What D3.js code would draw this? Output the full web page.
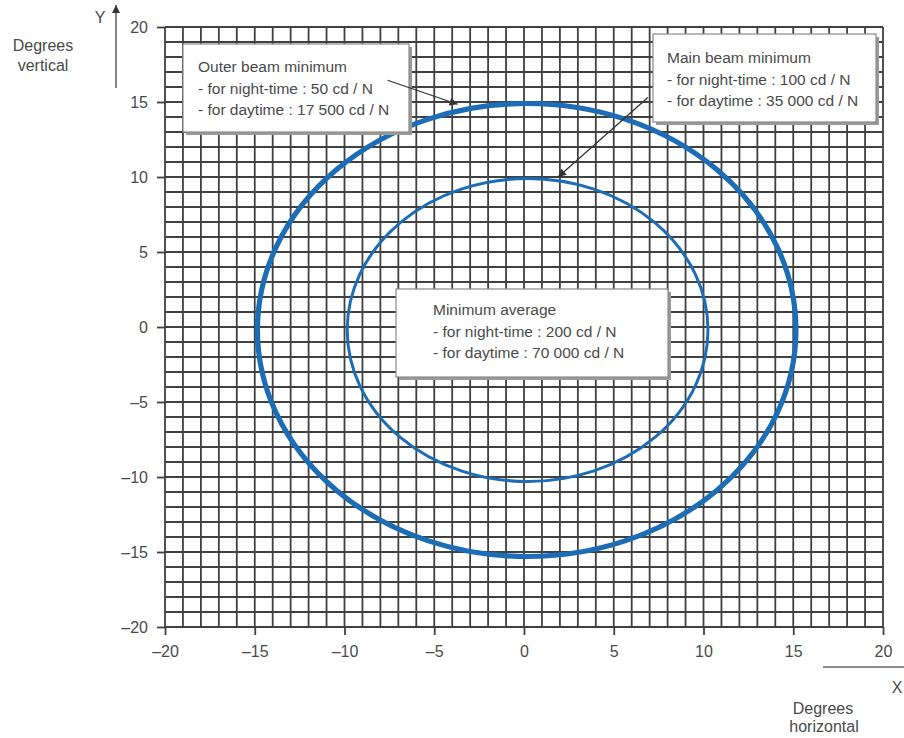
<!DOCTYPE html>
<html>
<head>
<meta charset="utf-8">
<script src="https://cdn.jsdelivr.net/npm/d3@7"></script>
<style>
  html, body { margin: 0; padding: 0; background: #fff; }
  svg { display: block; }
  text { font-family: "Liberation Sans", Arial, sans-serif; }
</style>
</head>
<body>
<svg id="chart" width="904" height="738"></svg>
<script>
// ---- data ----
const xDomain = [-20, 20];
const yDomain = [-20, 20];
const tickValues = [-20, -15, -10, -5, 0, 5, 10, 15, 20];
const gridStep = 1;
// beam contours (degrees): centre x, centre y, half-width, half-height
const contourNames = ["Outer beam", "Main beam"];
const contourCx = [0.15, 0.2];
const contourCy = [-0.2, -0.2];
const contourRx = [15.0, 10.05];
const contourRy = [15.1, 10.1];
// annotation boxes
const boxTitles = ["Outer beam minimum", "Main beam minimum", "Minimum average"];
const boxNight = ["- for night-time : 50 cd / N", "- for night-time : 100 cd / N", "- for night-time : 200 cd / N"];
const boxDay = ["- for daytime : 17 500 cd / N", "- for daytime : 35 000 cd / N", "- for daytime : 70 000 cd / N"];
// leader arrows (degrees): from -> to
const arrowFromX = [-7.6, 6.9];
const arrowFromY = [16.45, 15.3];
const arrowToX = [-3.7, 1.9];
const arrowToY = [14.85, 10.0];

// ---- layout ----
const svg = d3.select("#chart");
const pLeft = 165, pRight = 883, pTop = 27, pBottom = 627;
const x = d3.scaleLinear().domain(xDomain).range([pLeft, pRight]);
const y = d3.scaleLinear().domain(yDomain).range([pBottom, pTop]);
const textCol = "#4a4a4a";
const gridCol = "#404040";
const blue = "#1c6db6";

// grid
const gridVals = d3.range(xDomain[0], xDomain[1] + gridStep / 2, gridStep);
const gyVals = d3.range(yDomain[0], yDomain[1] + gridStep / 2, gridStep);
const grid = svg.append("g");
grid.selectAll("line.v").data(gridVals).join("line").attr("class", "v")
  .attr("x1", d => x(d)).attr("x2", d => x(d))
  .attr("y1", y(yDomain[0])).attr("y2", y(yDomain[1]))
  .attr("stroke", gridCol).attr("stroke-width", 1.8);
grid.selectAll("line.h").data(gyVals).join("line").attr("class", "h")
  .attr("y1", d => y(d)).attr("y2", d => y(d))
  .attr("x1", x(xDomain[0])).attr("x2", x(xDomain[1]))
  .attr("stroke", gridCol).attr("stroke-width", 1.8);

// axes
const fmt = d => d3.format("d")(d).replace("-", "\u2013").replace("\u2212", "\u2013");
const xAxis = svg.append("g").attr("transform", `translate(0,${pBottom})`)
  .call(d3.axisBottom(x).tickValues(tickValues).tickSize(8).tickSizeOuter(0).tickPadding(11).tickFormat(fmt));
const yAxis = svg.append("g").attr("transform", `translate(${pLeft},0)`)
  .call(d3.axisLeft(y).tickValues(tickValues).tickSize(8).tickSizeOuter(0).tickPadding(9).tickFormat(fmt));
[xAxis, yAxis].forEach(a => {
  a.select(".domain").remove();
  a.selectAll(".tick line").attr("stroke", gridCol).attr("stroke-width", 1.8);
  a.selectAll(".tick text").attr("fill", textCol).attr("font-size", 16)
    .attr("font-family", "'Liberation Sans', Arial, sans-serif");
});

// contours
svg.append("g").selectAll("ellipse").data(contourNames).join("ellipse")
  .attr("cx", (d, i) => x(contourCx[i]))
  .attr("cy", (d, i) => y(contourCy[i]))
  .attr("rx", (d, i) => x(contourRx[i]) - x(0))
  .attr("ry", (d, i) => y(0) - y(contourRy[i]))
  .attr("fill", "none").attr("stroke", blue)
  .attr("stroke-width", (d, i) => i === 0 ? 5.2 : 3);

// arrow marker
const defs = svg.append("defs");
defs.append("marker").attr("id", "ah").attr("viewBox", "0 0 10 10")
  .attr("refX", 10).attr("refY", 5).attr("markerWidth", 10).attr("markerHeight", 8)
  .attr("markerUnits", "userSpaceOnUse").attr("orient", "auto")
  .append("path").attr("d", "M0,0 L10,5 L0,10 Z").attr("fill", "#333");

// annotation boxes (pixel rectangles)
const boxRects = [[183, 44, 226, 88], [653, 34, 223, 88], [396, 289, 272, 88]];
const boxText = [[198, 72], [667, 63], [433, 315]];
const boxes = svg.append("g").selectAll("g").data(boxTitles).join("g");
boxes.append("rect")
  .attr("x", (d, i) => boxRects[i][0] + 3).attr("y", (d, i) => boxRects[i][1] + 3)
  .attr("width", (d, i) => boxRects[i][2]).attr("height", (d, i) => boxRects[i][3])
  .attr("fill", "#9a9a9a");
boxes.append("rect")
  .attr("x", (d, i) => boxRects[i][0]).attr("y", (d, i) => boxRects[i][1])
  .attr("width", (d, i) => boxRects[i][2]).attr("height", (d, i) => boxRects[i][3])
  .attr("fill", "#fff").attr("stroke", "#8a8a8a").attr("stroke-width", 1.2);
boxes.each(function (d, i) {
  const g = d3.select(this);
  const lines = [boxTitles[i], boxNight[i], boxDay[i]];
  lines.forEach((t, k) => {
    g.append("text").attr("x", boxText[i][0]).attr("y", boxText[i][1] + k * 21.5)
      .attr("font-size", 15.5).attr("fill", textCol).text(t);
  });
});

// leader arrows
svg.append("g").selectAll("line").data(arrowFromX).join("line")
  .attr("x1", (d, i) => x(arrowFromX[i])).attr("y1", (d, i) => y(arrowFromY[i]))
  .attr("x2", (d, i) => x(arrowToX[i])).attr("y2", (d, i) => y(arrowToY[i]))
  .attr("stroke", "#333").attr("stroke-width", 1.3).attr("marker-end", "url(#ah)");

// axis direction arrows & labels
svg.append("line").attr("x1", 116).attr("y1", 88).attr("x2", 116).attr("y2", 5)
  .attr("stroke", "#666").attr("stroke-width", 1.6).attr("marker-end", "url(#ah)");
svg.append("text").attr("x", 100).attr("y", 23).attr("text-anchor", "middle")
  .attr("font-size", 16).attr("fill", textCol).text("Y");
svg.append("text").attr("x", 43).attr("y", 51).attr("text-anchor", "middle")
  .attr("font-size", 16).attr("fill", textCol).text("Degrees");
svg.append("text").attr("x", 43).attr("y", 71).attr("text-anchor", "middle")
  .attr("font-size", 16).attr("fill", textCol).text("vertical");

svg.append("line").attr("x1", 823).attr("y1", 667).attr("x2", 912).attr("y2", 667)
  .attr("stroke", "#666").attr("stroke-width", 1.6).attr("marker-end", "url(#ah)");
svg.append("text").attr("x", 897).attr("y", 693).attr("text-anchor", "middle")
  .attr("font-size", 16).attr("fill", textCol).text("X");
svg.append("text").attr("x", 823).attr("y", 714).attr("text-anchor", "middle")
  .attr("font-size", 16).attr("fill", textCol).text("Degrees");
svg.append("text").attr("x", 824).attr("y", 732).attr("text-anchor", "middle")
  .attr("font-size", 16).attr("fill", textCol).text("horizontal");
</script>
</body>
</html>
